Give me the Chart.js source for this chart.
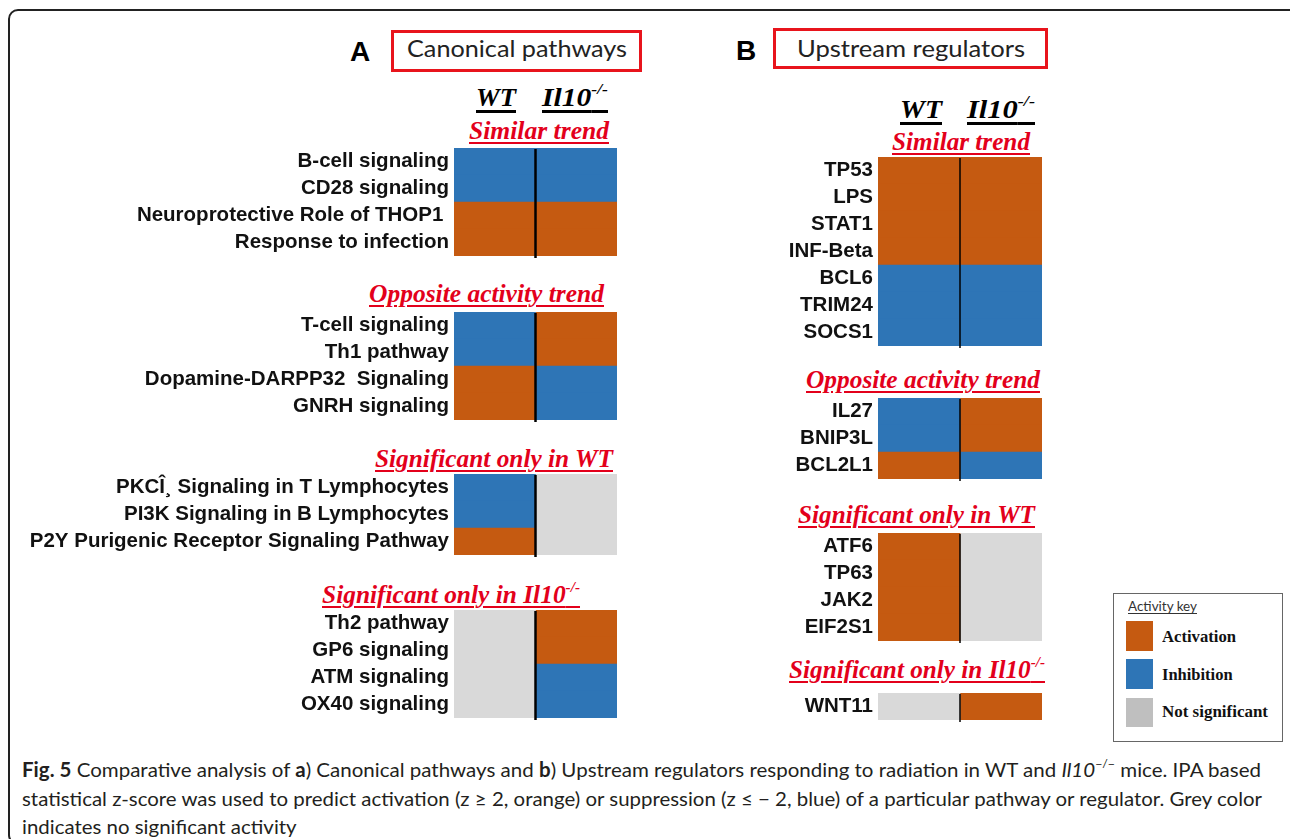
<!DOCTYPE html>
<html><head><meta charset="utf-8">
<script src="https://cdn.jsdelivr.net/npm/chart.js@4.4.1/dist/chart.umd.min.js"></script>
<style>
html,body{margin:0;padding:0;background:#fff;}
#root{position:relative;width:1290px;height:839px;overflow:hidden;background:#fff;}
.t{position:absolute;white-space:pre;line-height:1;transform-origin:0 0;display:inline-block;}
.frame{position:absolute;border:2px solid #222;border-radius:10px;}
.redbox{position:absolute;border:3px solid #e8141c;box-sizing:border-box;}
.cw{position:absolute;}
.serif{font-family:"Liberation Serif","Times New Roman",serif;font-weight:bold;font-style:italic;}
.hdr{font-size:26px;color:#000;text-decoration:underline;text-decoration-thickness:3px;text-underline-offset:4px;}
.ttl{font-size:25px;color:#e3001b;text-decoration:underline;text-decoration-thickness:2px;text-underline-offset:3px;}
sup{font-size:60%;line-height:0;vertical-align:0.75em;}
.sq{position:absolute;width:27px;height:30px;}
</style></head>
<body>
<div id="root">
  <div class="frame" style="left:8px;top:9px;width:1290px;height:832px;"></div>
  <div class="redbox" style="left:391px;top:30px;width:251px;height:42px;"></div>
  <div class="redbox" style="left:773px;top:28px;width:275px;height:41px;"></div>
  <div style="position:absolute;left:1113px;top:593px;width:170px;height:149px;border:1px solid #666;box-sizing:border-box;"></div>
  <div class="sq" style="left:1126px;top:621px;background:#C55A11;"></div>
  <div class="sq" style="left:1126px;top:659px;background:#2E75B6;"></div>
  <div class="sq" style="left:1126px;top:698px;height:29px;background:#BFBFBF;"></div>
</div>
<script>
// ---------- DATA ----------
// status codes: 1 = activation, -1 = inhibition, 0 = not significant
const columns = ['WT', 'Il10-/-'];
const groupTitles = ['Similar trend', 'Opposite activity trend', 'Significant only in WT', 'Significant only in Il10'];

// Panel A: Canonical pathways
const aSimilarLabels = ['B-cell signaling', 'CD28 signaling', 'Neuroprotective Role of THOP1 ', 'Response to infection'];
const aSimilarWT = [-1, -1, 1, 1];
const aSimilarKO = [-1, -1, 1, 1];
const aOppositeLabels = ['T-cell signaling', 'Th1 pathway', 'Dopamine-DARPP32  Signaling', 'GNRH signaling'];
const aOppositeWT = [-1, -1, 1, 1];
const aOppositeKO = [1, 1, -1, -1];
const aWTOnlyLabels = ['PKC\u00CE\u00B8 Signaling in T Lymphocytes', 'PI3K Signaling in B Lymphocytes', 'P2Y Purigenic Receptor Signaling Pathway'];
const aWTOnlyWT = [-1, -1, 1];
const aWTOnlyKO = [0, 0, 0];
const aKOOnlyLabels = ['Th2 pathway', 'GP6 signaling', 'ATM signaling', 'OX40 signaling'];
const aKOOnlyWT = [0, 0, 0, 0];
const aKOOnlyKO = [1, 1, -1, -1];

// Panel B: Upstream regulators
const bSimilarLabels = ['TP53', 'LPS', 'STAT1', 'INF-Beta', 'BCL6', 'TRIM24', 'SOCS1'];
const bSimilarWT = [1, 1, 1, 1, -1, -1, -1];
const bSimilarKO = [1, 1, 1, 1, -1, -1, -1];
const bOppositeLabels = ['IL27', 'BNIP3L', 'BCL2L1'];
const bOppositeWT = [-1, -1, 1];
const bOppositeKO = [1, 1, -1];
const bWTOnlyLabels = ['ATF6', 'TP63', 'JAK2', 'EIF2S1'];
const bWTOnlyWT = [1, 1, 1, 1];
const bWTOnlyKO = [0, 0, 0, 0];
const bKOOnlyLabels = ['WNT11'];
const bKOOnlyWT = [0];
const bKOOnlyKO = [1];

const statusColors = {'1': '#C55A11', '-1': '#2E75B6', '0': '#D9D9D9'};
const legendItems = ['Activation', 'Inhibition', 'Not significant'];

// ---------- LAYOUT ----------
const root = document.getElementById('root');
const ROW = 27;
const panelA = {left: 0, gridLeft: 454, gridRight: 617, divW: 2.5};
const panelB = {left: 660, gridLeft: 878, gridRight: 1042, divW: 1.5};

const dividerPlugin = {
  id: 'divider',
  afterDatasetsDraw(chart, args, opts) {
    const {ctx, chartArea, scales} = chart;
    const px = scales.x.getPixelForValue(1);
    ctx.save();
    ctx.strokeStyle = '#000';
    ctx.lineWidth = opts.width || 2;
    ctx.beginPath();
    ctx.moveTo(px, chartArea.top + 1);
    ctx.lineTo(px, chartArea.bottom + 2);
    ctx.stroke();
    ctx.restore();
  }
};

function makeGroup(panel, top, labels, wt, ko) {
  const w = panel.gridRight - panel.left;
  const h = labels.length * ROW + 3;
  const div = document.createElement('div');
  div.className = 'cw';
  div.style.left = panel.left + 'px';
  div.style.top = top + 'px';
  div.style.width = w + 'px';
  div.style.height = h + 'px';
  const cv = document.createElement('canvas');
  cv.width = w; cv.height = h;
  cv.style.width = w + 'px'; cv.style.height = h + 'px';
  div.appendChild(cv);
  root.appendChild(div);
  const axisW = panel.gridLeft - panel.left;
  new Chart(cv, {
    type: 'bar',
    data: {
      labels: labels,
      datasets: [
        {label: columns[0], data: labels.map(() => [0, 1]), backgroundColor: wt.map(s => statusColors[String(s)]),
         grouped: false, barPercentage: 1, categoryPercentage: 1, borderWidth: 0, borderSkipped: false},
        {label: columns[1], data: labels.map(() => [1, 2]), backgroundColor: ko.map(s => statusColors[String(s)]),
         grouped: false, barPercentage: 1, categoryPercentage: 1, borderWidth: 0, borderSkipped: false}
      ]
    },
    options: {
      indexAxis: 'y',
      responsive: false,
      devicePixelRatio: 1,
      animation: false,
      events: [],
      layout: {padding: {top: 0, bottom: 3, left: 0, right: 0}},
      plugins: {legend: {display: false}, tooltip: {enabled: false}, divider: {width: panel.divW}},
      scales: {
        x: {type: 'linear', min: 0, max: 2, display: false},
        y: {
          type: 'category', position: 'left',
          grid: {display: false, drawTicks: false},
          border: {display: false},
          ticks: {font: {family: '"Liberation Sans", Arial, sans-serif', weight: 'bold', size: 20.5}, color: '#111', padding: 5, autoSkip: false},
          afterFit: s => { s.width = axisW; s.paddingTop = 0; s.paddingBottom = 0; }
        }
      }
    },
    plugins: [dividerPlugin]
  });
}

makeGroup(panelA, 148, aSimilarLabels, aSimilarWT, aSimilarKO);
makeGroup(panelA, 312, aOppositeLabels, aOppositeWT, aOppositeKO);
makeGroup(panelA, 474, aWTOnlyLabels, aWTOnlyWT, aWTOnlyKO);
makeGroup(panelA, 610, aKOOnlyLabels, aKOOnlyWT, aKOOnlyKO);
makeGroup(panelB, 157, bSimilarLabels, bSimilarWT, bSimilarKO);
makeGroup(panelB, 398, bOppositeLabels, bOppositeWT, bOppositeKO);
makeGroup(panelB, 533, bWTOnlyLabels, bWTOnlyWT, bWTOnlyKO);
makeGroup(panelB, 693, bKOOnlyLabels, bKOOnlyWT, bKOOnlyKO);

// ---------- TEXT ----------
const placed = [];
function addText(html, x, base, cls, style, fitW, scaleFrom) {
  const el = document.createElement('div');
  el.className = 't ' + (cls || '');
  if (style) el.setAttribute('style', style);
  el.innerHTML = html + '<span class="bl" style="display:inline-block;width:0;height:0;"></span>';
  el.style.left = x + 'px';
  el.style.top = '0px';
  root.appendChild(el);
  const p = {el, base, fitW, scaleFrom, scale: 1};
  placed.push(p);
  return p;
}
function layoutText() {
  for (const p of placed) {
    p.el.style.transform = '';
    const r = p.el.getBoundingClientRect();
    const b = p.el.querySelector('.bl').getBoundingClientRect();
    const off = b.top - r.top;
    p.el.style.top = (p.base - off) + 'px';
    if (p.fitW) p.scale = p.fitW / r.width;
    else if (p.scaleFrom) p.scale = p.scaleFrom.scale;
    if (p.scale !== 1) p.el.style.transform = 'scaleX(' + p.scale + ')';
  }
}

const il10 = 'Il10<sup>-/-</sup>';
addText('A', 350, 61, '', 'font:bold 28px "Liberation Sans",Arial,sans-serif;color:#000;');
addText('Canonical pathways', 407, 57, '', 'font:24px Lato,sans-serif;color:#222;', 220);
addText('B', 736, 60, '', 'font:bold 28px "Liberation Sans",Arial,sans-serif;color:#000;');
addText('Upstream regulators', 797, 57, '', 'font:24px Lato,sans-serif;color:#222;', 228);

addText(columns[0], 476, 106, 'serif hdr', null, 40);
addText(il10, 542, 106, 'serif hdr', null, 66);
addText(columns[0], 900, 118, 'serif hdr', null, 42);
addText(il10, 967, 118, 'serif hdr', null, 68);

const tA = [[469, 139, 140], [369, 302, 235], [375, 467, 238], [322, 603, 258]];
const tB = [[892, 150, 138], [806, 388, 234], [798, 523, 237], [789, 678, 256]];
groupTitles.forEach((g, i) => {
  const html = i === 3 ? g + '<sup>-/-</sup>' : g;
  addText(html, tA[i][0], tA[i][1], 'serif ttl', null, tA[i][2]);
  addText(html, tB[i][0], tB[i][1], 'serif ttl', null, tB[i][2]);
});

addText('Activity key', 1128, 611, '', 'font:14px Lato,sans-serif;color:#333;text-decoration:underline;text-underline-offset:2px;', 69);
const legBase = [642, 680, 717];
legendItems.forEach((s, i) => {
  addText(s, 1162, legBase[i], '', 'font:bold 16.5px "Liberation Serif","Times New Roman",serif;color:#111;', i === 0 ? 74 : (i === 2 ? 106 : null));
});

const capStyle = 'font:20px Lato,sans-serif;color:#231f20;';
addText('<b>Fig. 5</b> Comparative analysis of <b>a</b>) Canonical pathways and <b>b</b>) Upstream regulators responding to radiation in WT and <i>Il10</i><sup>\u2212/\u2212</sup> mice. IPA based', 22, 777, '', capStyle, 1239);
const cap2 = addText('statistical z-score was used to predict activation (z \u2265 2, orange) or suppression (z \u2264 \u2212 2, blue) of a particular pathway or regulator. Grey color', 22, 806, '', capStyle, 1240);
addText('indicates no significant activity', 22, 834, '', capStyle, null, cap2);

layoutText();
if (document.fonts && document.fonts.ready) document.fonts.ready.then(layoutText);
</script>
</body></html>
